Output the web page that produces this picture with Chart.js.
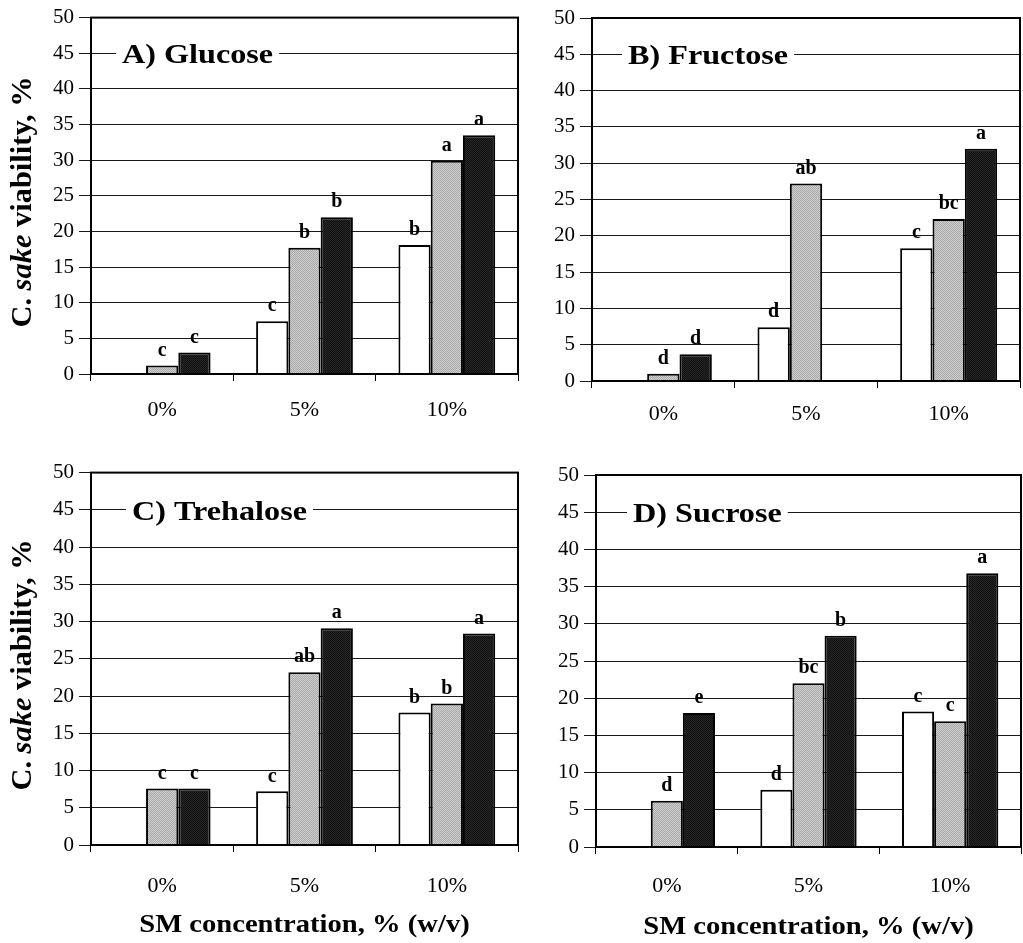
<!DOCTYPE html>
<html>
<head>
<meta charset="utf-8">
<script src="https://cdn.jsdelivr.net/npm/chart.js@4.4.0/dist/chart.umd.min.js"></script>
<style>
  html, body { margin: 0; padding: 0; background: #fff; }
  #pagina { position: relative; width: 1023px; height: 943px; overflow: hidden; }
  canvas { position: absolute; }
  #aquecer { position: absolute; left: -9999px; font-family: "Liberation Serif"; }
</style>
</head>
<body>
<div id="aquecer"><b>Abc</b> <i><b>sake</b></i> 0123</div>
<div id="pagina">
  <canvas id="grafA" width="522" height="430" style="left:0;top:0"></canvas>
  <canvas id="grafB" width="501" height="430" style="left:522px;top:0"></canvas>
  <canvas id="grafC" width="522" height="488" style="left:0;top:455px"></canvas>
  <canvas id="grafD" width="501" height="488" style="left:522px;top:455px"></canvas>
</div>
<script>
const categorias = ["0%", "5%", "10%"];

// valores (viabilidade %), tres series por painel
const glucoseBranco = [null, 7.4, 18.1];
const glucoseCinza = [1.2, 17.7, 29.9];
const glucosePreto = [3.0, 22.0, 33.5];
const glucoseLetras = [["", "c", "b"], ["c", "b", "a"], ["c", "b", "a"]];

const frutoseBranco = [null, 7.4, 18.3];
const frutoseCinza = [1.0, 27.2, 22.3];
const frutosePreto = [3.7, null, 32.0];
const frutoseLetras = [["", "d", "c"], ["d", "ab", "bc"], ["d", "", "a"]];

const trehaloseBranco = [null, 7.2, 17.8];
const trehaloseCinza = [7.6, 23.2, 19.0];
const trehalosePreto = [7.6, 29.1, 28.4];
const trehaloseLetras = [["", "c", "b"], ["c", "ab", "b"], ["c", "a", "a"]];

const sacaroseBranco = [null, 7.7, 18.2];
const sacaroseCinza = [6.2, 22.0, 16.9];
const sacarosePreto = [18.0, 28.4, 36.8];
const sacaroseLetras = [["", "d", "c"], ["d", "bc", "c"], ["e", "b", "a"]];

const fonteSerif = "'Liberation Serif', 'Times New Roman', Times, serif";
const tituloX = "SM concentration, % (w/v)";

const paineis = [
  { id: "grafA", titulo: "A) Glucose", series: [glucoseBranco, glucoseCinza, glucosePreto], letras: glucoseLetras,
    area: { left: 91, top: 17, right: 518, bottom: 374 }, recuo: 31, padX: 16, tituloY: 202, comTituloX: false },
  { id: "grafB", titulo: "B) Fructose", series: [frutoseBranco, frutoseCinza, frutosePreto], letras: frutoseLetras,
    area: { left: 70, top: 18, right: 498, bottom: 381 }, recuo: 36, padX: 13, tituloY: null, comTituloX: false },
  { id: "grafC", titulo: "C) Trehalose", series: [trehaloseBranco, trehaloseCinza, trehalosePreto], letras: trehaloseLetras,
    area: { left: 91, top: 17, right: 518, bottom: 390 }, recuo: 41, padX: 21, tituloY: 210, comTituloX: true },
  { id: "grafD", titulo: "D) Sucrose", series: [sacaroseBranco, sacaroseCinza, sacarosePreto], letras: sacaroseLetras,
    area: { left: 74, top: 20, right: 499, bottom: 392 }, recuo: 37, padX: 19, tituloY: null, comTituloX: true },
];

// pontilhado cinza parecido com o da figura impressa
function criarPadrao(corA, corB) {
  const tela = document.createElement("canvas");
  tela.width = 2;
  tela.height = 2;
  const c = tela.getContext("2d");
  c.fillStyle = corA;
  c.fillRect(0, 0, 2, 2);
  c.fillStyle = corB;
  c.fillRect(0, 0, 1, 1);
  c.fillRect(1, 1, 1, 1);
  return c.createPattern(tela, "repeat");
}

const pluginMoldura = {
  id: "moldura",
  afterDatasetsDraw(chart) {
    const { ctx, chartArea: a } = chart;
    ctx.save();
    ctx.strokeStyle = "#000";
    ctx.lineWidth = 2;
    ctx.strokeRect(a.left, a.top, a.right - a.left, a.bottom - a.top);
    ctx.restore();
  },
};

const pluginLetras = {
  id: "letras",
  afterDatasetsDraw(chart, args, opts) {
    const ctx = chart.ctx;
    ctx.save();
    ctx.font = "bold 20px " + fonteSerif;
    ctx.textAlign = "center";
    ctx.textBaseline = "bottom";
    ctx.fillStyle = "#000";
    chart.data.datasets.forEach((ds, i) => {
      const letras = (opts.listas || [])[i] || [];
      chart.getDatasetMeta(i).data.forEach((barra, j) => {
        const letra = letras[j];
        if (!letra || ds.data[j] === null) return;
        ctx.fillText(letra, barra.x, barra.y - 5);
      });
    });
    ctx.restore();
  },
};

const pluginRotulo = {
  id: "rotulo",
  afterDraw(chart, args, opts) {
    const { ctx, chartArea: a, scales } = chart;
    const y = scales.y.getPixelForValue(45);
    const esticar = 1.15;
    ctx.save();
    ctx.font = "bold 28px " + fonteSerif;
    const largura = ctx.measureText(opts.texto).width * esticar;
    const x0 = a.left + opts.recuo;
    ctx.fillStyle = "#fff";
    ctx.fillRect(x0 - 6, y - 16, largura + 12, 32);
    ctx.translate(x0, y + 10);
    ctx.scale(esticar, 1);
    ctx.fillStyle = "#000";
    ctx.textAlign = "left";
    ctx.textBaseline = "alphabetic";
    ctx.fillText(opts.texto, 0, 0);
    ctx.restore();
  },
};

function desenharTituloY(ctx, cx, cy) {
  const partes = [
    { texto: "C. ", fonte: "bold 29px " + fonteSerif },
    { texto: "sake", fonte: "italic bold 29px " + fonteSerif },
    { texto: " viability, %", fonte: "bold 29px " + fonteSerif },
  ];
  ctx.save();
  ctx.translate(cx, cy);
  ctx.rotate(-Math.PI / 2);
  ctx.scale(1.05, 1);
  let total = 0;
  partes.forEach((p) => { ctx.font = p.fonte; total += ctx.measureText(p.texto).width; });
  let x = -total / 2;
  ctx.fillStyle = "#000";
  ctx.textAlign = "left";
  ctx.textBaseline = "middle";
  partes.forEach((p) => {
    ctx.font = p.fonte;
    ctx.fillText(p.texto, x, 0);
    x += ctx.measureText(p.texto).width;
  });
  ctx.restore();
}

const pluginTitulos = {
  id: "titulos",
  afterDraw(chart, args, opts) {
    const { ctx, chartArea: a } = chart;
    if (opts.tituloY !== null) desenharTituloY(ctx, 24, opts.tituloY);
    if (opts.comTituloX) {
      ctx.save();
      ctx.font = "bold 26px " + fonteSerif;
      ctx.translate((a.left + a.right) / 2, a.bottom + 80);
      ctx.scale(1.1, 1);
      ctx.fillStyle = "#000";
      ctx.textAlign = "center";
      ctx.textBaseline = "middle";
      ctx.fillText(tituloX, 0, 0);
      ctx.restore();
    }
  },
};

function criarPainel(p) {
  const canvas = document.getElementById(p.id);
  const alturaX = canvas.height - p.area.bottom;
  const estilos = [
    { label: "Série 1", cor: "#ffffff" },
    { label: "Série 2", cor: criarPadrao("#cfcfcf", "#a9a9a9") },
    { label: "Série 3", cor: criarPadrao("#111111", "#262626") },
  ];
  return new Chart(canvas, {
    type: "bar",
    data: {
      labels: categorias,
      datasets: p.series.map((valores, i) => ({
        label: estilos[i].label,
        data: valores,
        backgroundColor: estilos[i].cor,
        borderColor: "#000",
        borderWidth: 2,
        categoryPercentage: 0.68,
        barPercentage: 1.0,
      })),
    },
    options: {
      responsive: false,
      animation: false,
      devicePixelRatio: 1,
      layout: { padding: { left: 0, top: p.area.top, right: canvas.width - p.area.right, bottom: 0 } },
      plugins: {
        legend: { display: false },
        tooltip: { enabled: false },
        letras: { listas: p.letras },
        rotulo: { texto: p.titulo, recuo: p.recuo },
        titulos: { tituloY: p.tituloY, comTituloX: p.comTituloX },
      },
      scales: {
        x: {
          grid: { offset: true, drawOnChartArea: false, tickLength: 7, color: "#000", lineWidth: 1 },
          border: { display: false },
          ticks: { color: "#000", font: { family: fonteSerif, size: 22 }, padding: p.padX, maxRotation: 0 },
          afterFit: (escala) => { escala.height = alturaX; },
        },
        y: {
          min: 0,
          max: 50,
          grid: { color: "#1a1a1a", lineWidth: 1, tickLength: 12 },
          border: { display: false },
          ticks: { stepSize: 5, color: "#000", font: { family: fonteSerif, size: 21 }, padding: 5 },
          afterFit: (escala) => { escala.width = p.area.left; },
        },
      },
    },
    plugins: [pluginMoldura, pluginLetras, pluginRotulo, pluginTitulos],
  });
}

Promise.all([
  document.fonts.load("21px 'Liberation Serif'"),
  document.fonts.load("bold 21px 'Liberation Serif'"),
  document.fonts.load("italic bold 21px 'Liberation Serif'"),
]).catch(() => null).then(() => paineis.forEach(criarPainel));
</script>
</body>
</html>
